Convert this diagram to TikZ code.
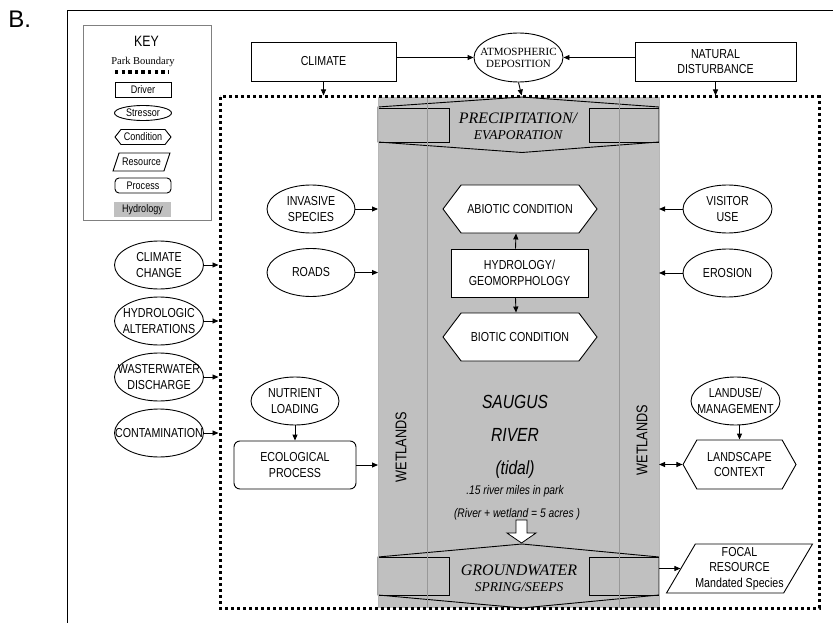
\documentclass[tikz,border=0pt]{standalone}
\usepackage{fontspec}
\setmainfont{Liberation Sans}[FakeStretch=0.82]
\newfontfamily\tnr{Liberation Serif}
\newfontfamily\plainsans{Liberation Sans}
\usetikzlibrary{arrows.meta,shapes.geometric,shapes.symbols}

\definecolor{hydgray}{HTML}{C0C0C0}
\definecolor{linegray}{HTML}{989898}
\definecolor{keygray}{HTML}{808080}

% a line of text that takes no width, so that a shape keeps its own size
\newcommand{\zl}[1]{\makebox[0pt]{#1}}

\begin{document}
\begin{tikzpicture}[x=1pt,y=-1pt,line width=0.9pt,
  every node/.style={inner sep=0pt,align=center,font=\fontsize{13}{15.5}\selectfont},
  driver/.style={draw,rectangle},
  stressor/.style={draw,ellipse,fill=white},
  cond/.style={draw,fill=white,signal,signal to=east and west},
  resource/.style={draw,fill=white,trapezium,trapezium stretches=true,
    trapezium left angle=56,trapezium right angle=124},
  process/.style={draw,fill=white,rectangle,rounded corners=6pt},
  big/.style={minimum width=88pt,minimum height=48pt},
  keyshape/.style={minimum width=56pt,minimum height=15pt,font=\fontsize{11}{12}\selectfont},
  arr/.style={-{Triangle[length=6pt,width=5pt]}},
  darr/.style={{Triangle[length=6pt,width=5pt]}-{Triangle[length=6pt,width=5pt]}},
  park/.style={line width=3pt,dash pattern=on 3pt off 3pt},
  flowtxt/.style={font=\tnr\itshape\fontsize{16}{17}\selectfont,anchor=base},
  flowsub/.style={font=\tnr\itshape\fontsize{13.5}{15}\selectfont,anchor=base},
  rivtxt/.style={font=\itshape\fontsize{19}{20}\selectfont,anchor=base},
  rivsmall/.style={font=\itshape\fontsize{12.5}{14}\selectfont,anchor=base},
  ]
\useasboundingbox (0,0) rectangle (833,623);

% panel label and open frame
\node[font=\plainsans\fontsize{24}{26}\selectfont,anchor=base west] (lbl) at (8,28) {B.};
\draw (67,623) -- (67,10) -- (833,10);

% ---------- key ----------
\draw[keygray] (83,25) rectangle (211,220);
\node[font=\fontsize{15}{16}\selectfont,anchor=base] (keyt) at (146.5,47) {KEY};
\node[font=\tnr\fontsize{10.5}{12}\selectfont,anchor=base] (keypb) at (143,65) {Park Boundary};
\draw[line width=3.3pt,dash pattern=on 3.3pt off 3.3pt] (115,72) -- (169,72);
\node[driver,keyshape] (kdrv) at (143,90) {Driver};
\node[stressor,keyshape,minimum width=57pt] (kstr) at (143,113) {\zl{Stressor}};
\node[cond,keyshape,signal pointer angle=103] (kcond) at (143,137) {Condition};
\node[resource,keyshape,minimum height=18pt,minimum width=57pt] (kres) at (141.5,162) {Resource};
\node[process,keyshape,rounded corners=4pt] (kproc) at (143,185.5) {Process};
\node[rectangle,fill=hydgray,keyshape,minimum width=57pt] (khyd) at (142.5,209.5) {Hydrology};

% ---------- hydrology column ----------
\fill[hydgray] (378,97) rectangle (659,608);
\coordinate (colL) at (378,97);
\coordinate (colR) at (659,97);

% precipitation / evaporation band
\draw[fill=hydgray] (378,107) -- (522,97) -- (659,107) -- (659,142) -- (522,152.5) -- (378,142) -- cycle;
\draw (378,108) rectangle (449,142);
\draw (589,108) rectangle (659,142);
\coordinate (precTop) at (522,97);

% groundwater band
\draw[fill=hydgray] (378,557) -- (522,544) -- (659,557) -- (659,595) -- (522,608) -- (378,595) -- cycle;
\draw (378,557) rectangle (449,595);
\draw (589,557) rectangle (659,595);

% wetland strips
\draw[linegray,line width=0.8pt] (427,97) -- (427,608);
\draw[linegray,line width=0.8pt] (619,97) -- (619,608);
\draw[linegray!70,line width=0.8pt] (378,97) -- (378,608);
\draw[linegray!70,line width=0.8pt] (659,97) -- (659,608);

\node[flowtxt] (precA) at (518,124) {PRECIPITATION/};
\node[flowsub] (precB) at (518,139.5) {EVAPORATION};
\node[flowtxt] (gwA) at (519,575) {GROUNDWATER};
\node[flowsub] (gwB) at (519,591) {SPRING/SEEPS};

\node[font=\fontsize{15.5}{16}\selectfont,rotate=90] (wetL) at (401,447) {WETLANDS};
\node[font=\fontsize{15.5}{16}\selectfont,rotate=90] (wetR) at (642,440) {WETLANDS};

\node[rivtxt] (sa) at (515,408) {SAUGUS};
\node[rivtxt] (ri) at (515,441.5) {RIVER};
\node[rivtxt] (ti) at (515,474) {(tidal)};
\node[rivsmall] (mi) at (515,494) {.15 river miles in park};
\node[rivsmall] (ac) at (517,517) {(River + wetland = 5 acres )};

% hollow arrow into groundwater
\draw[fill=white,line width=0.8pt] (516,520) -- (527,520) -- (527,533) -- (536,533) -- (521.5,543)
  -- (507,533) -- (516,533) -- cycle;

% park boundary
\draw[park] (220,97) rectangle (819,608);
\coordinate (pbL) at (218.5,97);

% ---------- drivers outside the park ----------
\node[driver,minimum width=145pt,minimum height=39pt] (clim) at (323.5,61.5) {CLIMATE};
\node[stressor,minimum width=89pt,minimum height=49pt,font=\tnr\fontsize{11}{12}\selectfont] (atm) at (518.5,57.5) {\zl{ATMOSPHERIC}\\\zl{DEPOSITION}};
\node[driver,minimum width=161pt,minimum height=39pt] (natd) at (715.5,61.5) {NATURAL\\DISTURBANCE};

\draw[arr] (atm.west -| clim.east) -- (atm.west);
\draw[arr] (atm.east -| natd.west) -- (atm.east);
\draw[arr,shorten >=1.5pt] (clim.south) -- (clim.south |- colL);
\draw[arr,shorten >=1.5pt] (atm.south) -- (precTop);
\draw[arr,shorten >=1.5pt] (natd.south) -- (natd.south |- colL);

\node[stressor,big,minimum width=89pt] (cc) at (159,265) {\zl{CLIMATE}\\\zl{CHANGE}};
\node[stressor,big,minimum width=89pt] (ha) at (159,321) {\zl{HYDROLOGIC}\\\zl{ALTERATIONS}};
\node[stressor,big,minimum width=89pt] (wd) at (159,377) {\zl{WASTERWATER}\\\zl{DISCHARGE}};
\node[stressor,big,minimum width=89pt] (co) at (159,433) {\zl{CONTAMINATION}};
\foreach \n in {cc,ha,wd,co}
  \draw[arr] (\n.east) -- (\n.east -| pbL);

% ---------- stressors inside the park ----------
\node[stressor,big] (inv) at (311,209) {\zl{INVASIVE}\\\zl{SPECIES}};
\node[stressor,big] (rd) at (311,272.5) {\zl{ROADS}};
\node[stressor,big] (nut) at (295,401) {\zl{NUTRIENT}\\\zl{LOADING}};
\node[process,minimum width=122pt,minimum height=48pt] (eco) at (295,465) {ECOLOGICAL\\PROCESS};
\draw[arr] (inv.east) -- (inv.east -| colL);
\draw[arr] (rd.east) -- (rd.east -| colL);
\draw[arr] (nut.south) -- (eco.north);
\draw[arr] (eco.east) -- (eco.east -| colL);

\node[stressor,big,minimum width=89pt] (vis) at (727.5,209) {\zl{VISITOR}\\\zl{USE}};
\node[stressor,big,minimum width=89pt] (ero) at (727.5,273) {\zl{EROSION}};
\node[stressor,big,minimum width=89pt] (land) at (735.5,401) {\zl{LANDUSE/}\\\zl{MANAGEMENT}};
\node[cond,minimum width=113pt,minimum height=49pt,signal pointer angle=121] (lsc) at (739.5,464.5) {LANDSCAPE\\CONTEXT};
\node[resource,minimum width=145pt,minimum height=49pt] (foc) at (739.5,568.5) {FOCAL\\RESOURCE\\Mandated Species};
\draw[arr] (vis.west) -- (vis.west -| colR);
\draw[arr] (ero.west) -- (ero.west -| colR);
\draw[arr] (lsc.north |- land.south) -- (lsc.north);
\draw[darr] (lsc.west -| colR) -- (lsc.west);
\draw[arr] (foc.west -| colR) -- (foc.west);

% ---------- central conditions ----------
\node[cond,minimum width=154pt,minimum height=48pt,signal pointer angle=106] (abio) at (520,209) {ABIOTIC CONDITION};
\node[driver,fill=white,minimum width=137pt,minimum height=48pt] (hyd) at (519.5,273) {HYDROLOGY/\\GEOMORPHOLOGY};
\node[cond,minimum width=154pt,minimum height=48pt,signal pointer angle=106] (bio) at (520,337) {BIOTIC CONDITION};
\draw[arr] ([xshift=-4pt]hyd.north) -- ([xshift=-4pt]abio.south);
\draw[arr] ([xshift=-4pt]hyd.south) -- ([xshift=-4pt]bio.north);
\end{tikzpicture}
\end{document}
